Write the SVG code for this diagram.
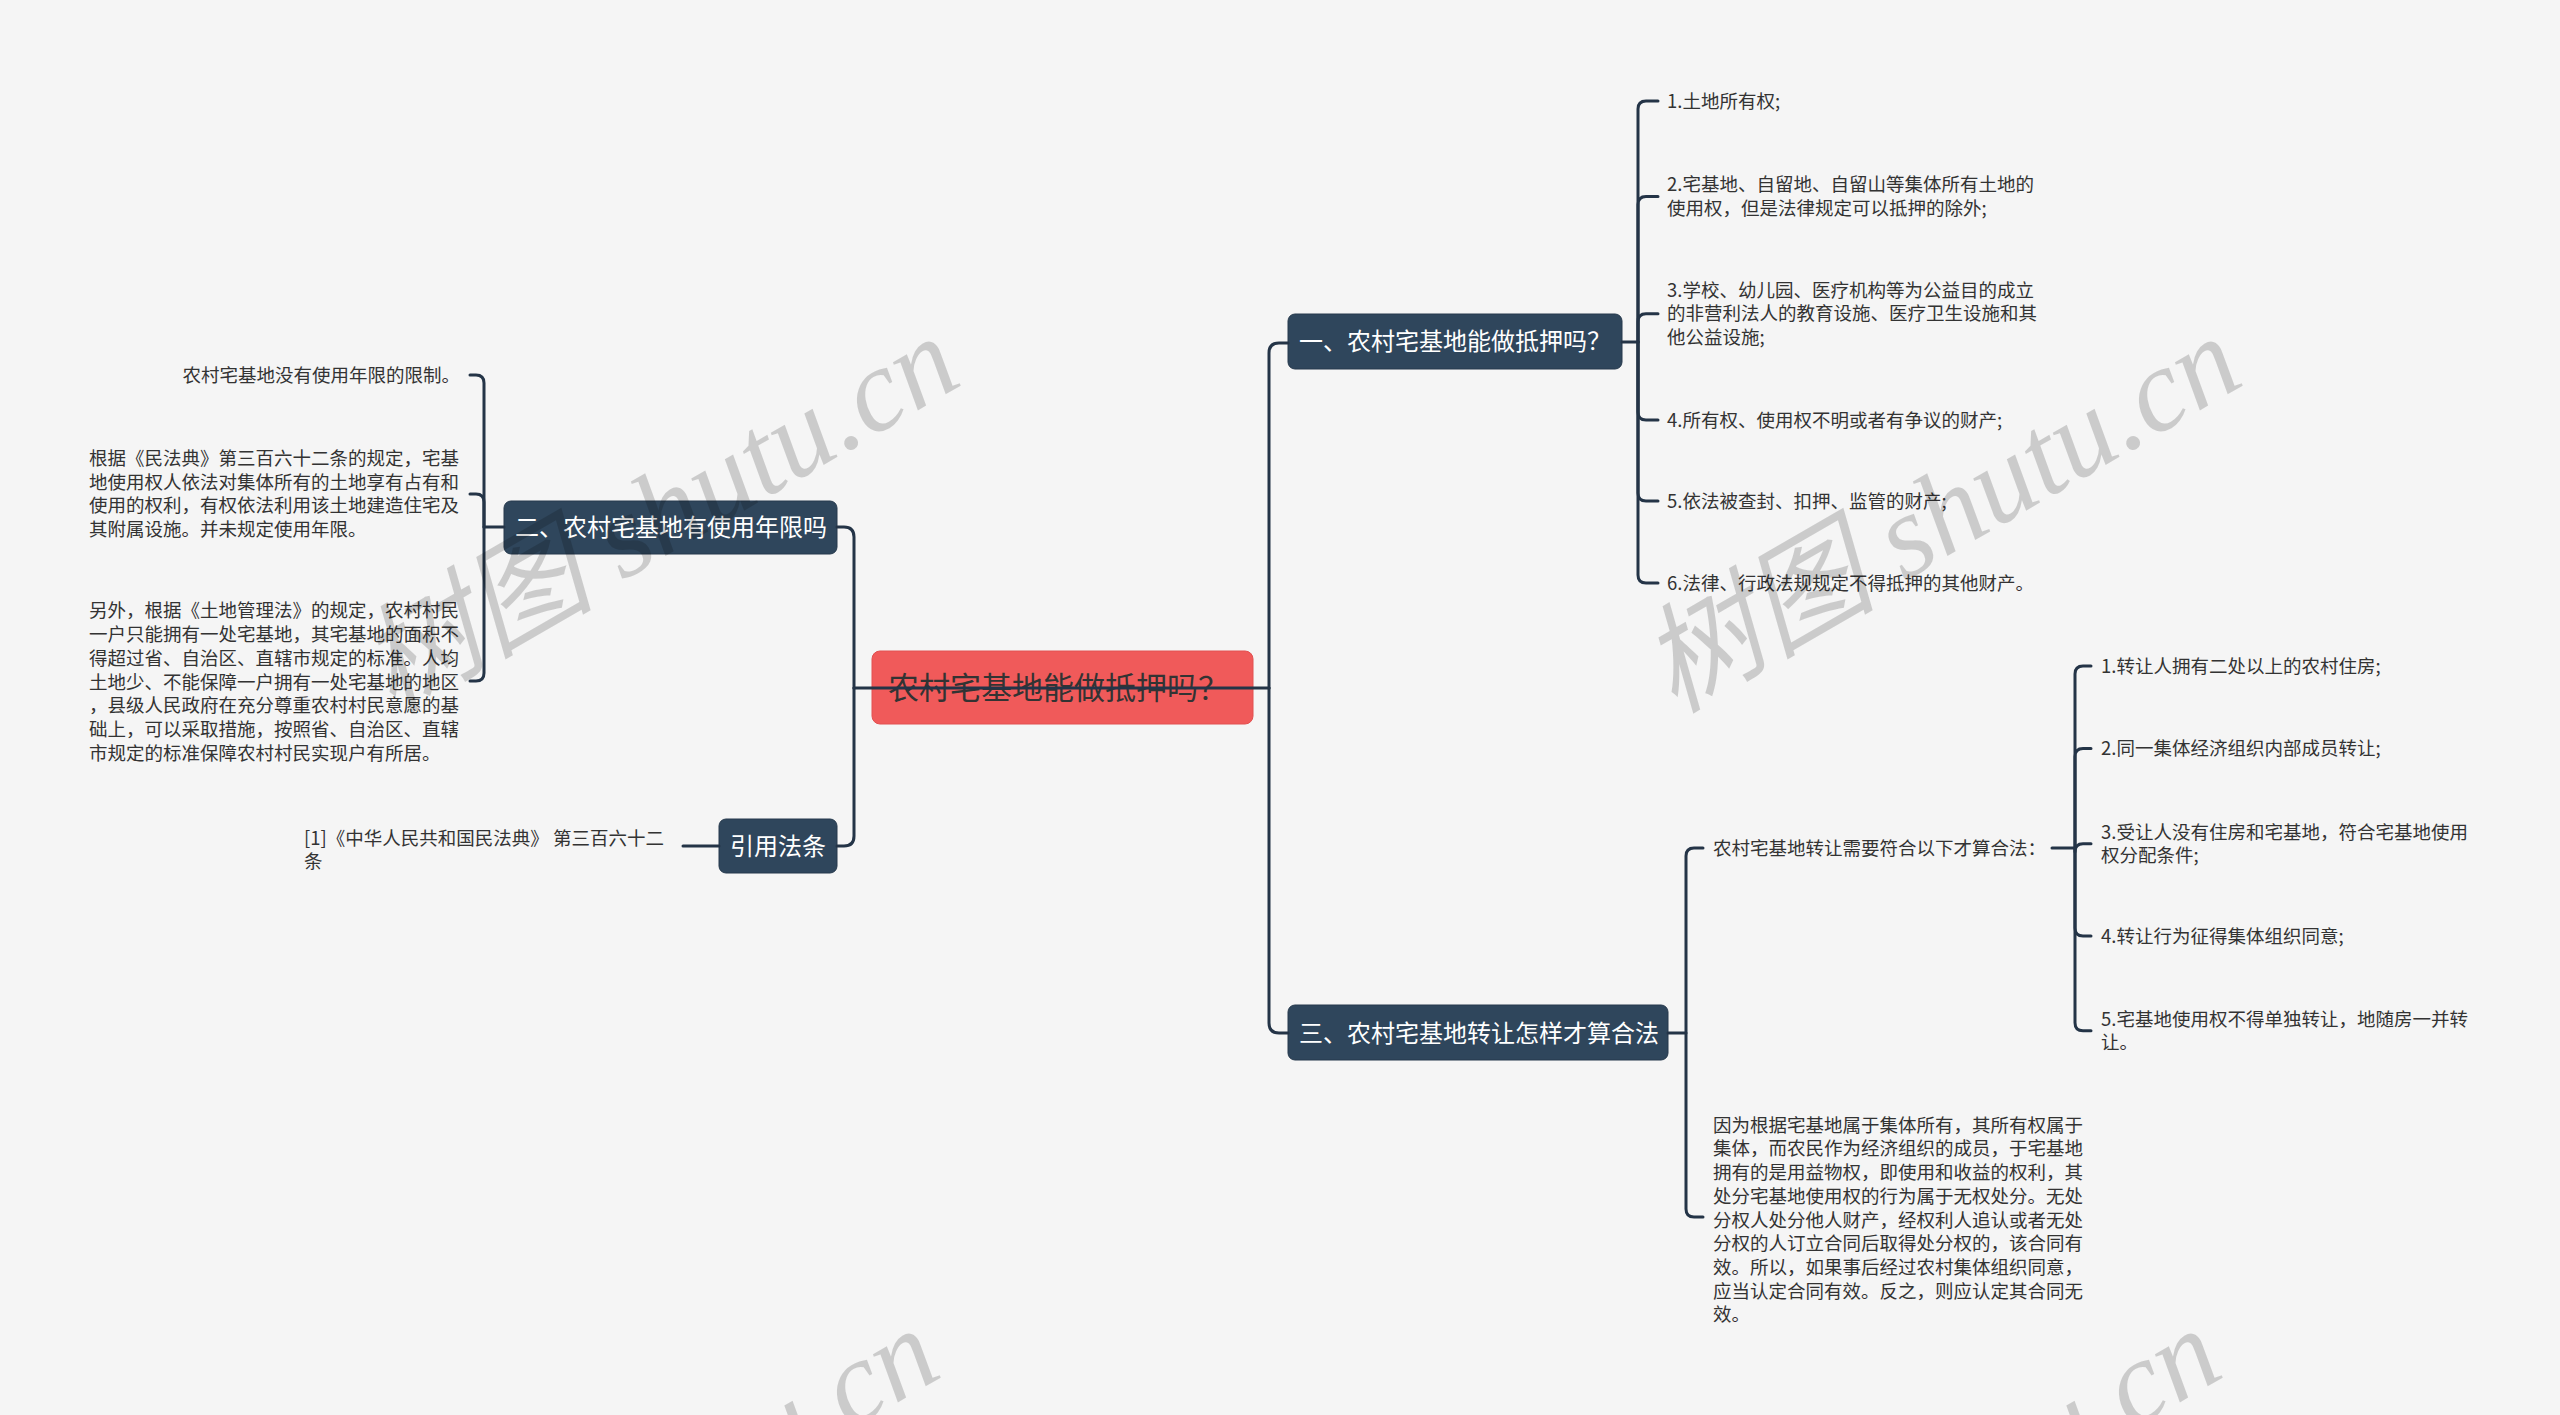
<svg xmlns="http://www.w3.org/2000/svg" width="2560" height="1415" viewBox="0 0 2560 1415">
<style>
.conn{fill:none;stroke:#243447;stroke-width:3;stroke-linecap:round;stroke-linejoin:round}
.topic rect{fill:#2f465c;stroke:#26394c;stroke-width:1}
.topic text{fill:#ffffff;font-size:24px;font-family:"Noto Sans CJK SC","Noto Sans",sans-serif}
.leaf{fill:#333333;font-size:18.5px;font-family:"Noto Sans CJK SC","Noto Sans",sans-serif}
.wm{fill:#000000;fill-opacity:0.17;font-size:118px;font-family:"Liberation Serif","Noto Sans CJK SC",serif;font-style:italic}
</style>
<rect x="0" y="0" width="2560" height="1415" fill="#f5f5f5"/>

<g id="nodes">
  <g id="root">
    <rect x="872" y="651" width="381" height="73" rx="8" fill="#f05a5a" stroke="#e25050" stroke-width="1"/>
    <text x="888" y="699" fill="#333333" font-size="31" font-family="Noto Sans CJK SC, Noto Sans, sans-serif">农村宅基地能做抵押吗？</text>
  </g>

  <g id="n1" class="topic">
    <rect x="1288" y="314" width="334" height="55" rx="7"/>
    <text x="1299" y="350">一、农村宅基地能做抵押吗？</text>
  </g>
  <g id="n1c1"><text class="leaf" x="1667" y="107.5">1.土地所有权;</text></g>
  <g id="n1c2"><text class="leaf" x="1667" y="191.2">2.宅基地、自留地、自留山等集体所有土地的</text><text class="leaf" x="1667" y="214.9">使用权，但是法律规定可以抵押的除外;</text></g>
  <g id="n1c3"><text class="leaf" x="1667" y="296.5">3.学校、幼儿园、医疗机构等为公益目的成立</text><text class="leaf" x="1667" y="320.2">的非营利法人的教育设施、医疗卫生设施和其</text><text class="leaf" x="1667" y="343.9">他公益设施;</text></g>
  <g id="n1c4"><text class="leaf" x="1667" y="426.5">4.所有权、使用权不明或者有争议的财产;</text></g>
  <g id="n1c5"><text class="leaf" x="1667" y="507.5">5.依法被查封、扣押、监管的财产;</text></g>
  <g id="n1c6"><text class="leaf" x="1667" y="589.5">6.法律、行政法规规定不得抵押的其他财产。</text></g>

  <g id="n2" class="topic">
    <rect x="504" y="501" width="333" height="53" rx="7"/>
    <text x="515" y="535.5">二、农村宅基地有使用年限吗</text>
  </g>
  <g id="n2c1"><text class="leaf" x="460" y="381.5" text-anchor="end">农村宅基地没有使用年限的限制。</text></g>
  <g id="n2c2">
    <text class="leaf" x="89" y="465">根据《民法典》第三百六十二条的规定，宅基</text>
    <text class="leaf" x="89" y="488.7">地使用权人依法对集体所有的土地享有占有和</text>
    <text class="leaf" x="89" y="512.4">使用的权利，有权依法利用该土地建造住宅及</text>
    <text class="leaf" x="89" y="536.1">其附属设施。并未规定使用年限。</text>
  </g>
  <g id="n2c3">
    <text class="leaf" x="89" y="617.4">另外，根据《土地管理法》的规定，农村村民</text>
    <text class="leaf" x="89" y="641.1">一户只能拥有一处宅基地，其宅基地的面积不</text>
    <text class="leaf" x="89" y="664.8">得超过省、自治区、直辖市规定的标准。人均</text>
    <text class="leaf" x="89" y="688.5">土地少、不能保障一户拥有一处宅基地的地区</text>
    <text class="leaf" x="89" y="712.2">，县级人民政府在充分尊重农村村民意愿的基</text>
    <text class="leaf" x="89" y="735.9">础上，可以采取措施，按照省、自治区、直辖</text>
    <text class="leaf" x="89" y="759.6">市规定的标准保障农村村民实现户有所居。</text>
  </g>

  <g id="n3" class="topic">
    <rect x="1288" y="1005" width="380" height="55" rx="7"/>
    <text x="1299" y="1041.5">三、农村宅基地转让怎样才算合法</text>
  </g>
  <g id="n3c1"><text class="leaf" x="1713" y="854.5">农村宅基地转让需要符合以下才算合法：</text></g>
  <g id="n3c1a"><text class="leaf" x="2101" y="672.5">1.转让人拥有二处以上的农村住房;</text></g>
  <g id="n3c1b"><text class="leaf" x="2101" y="755">2.同一集体经济组织内部成员转让;</text></g>
  <g id="n3c1c"><text class="leaf" x="2101" y="838.5">3.受让人没有住房和宅基地，符合宅基地使用</text><text class="leaf" x="2101" y="862.2">权分配条件;</text></g>
  <g id="n3c1d"><text class="leaf" x="2101" y="942.5">4.转让行为征得集体组织同意;</text></g>
  <g id="n3c1e"><text class="leaf" x="2101" y="1025.5">5.宅基地使用权不得单独转让，地随房一并转</text><text class="leaf" x="2101" y="1049.2">让。</text></g>
  <g id="n3c2">
    <text class="leaf" x="1713" y="1131.7">因为根据宅基地属于集体所有，其所有权属于</text>
    <text class="leaf" x="1713" y="1155.4">集体，而农民作为经济组织的成员，于宅基地</text>
    <text class="leaf" x="1713" y="1179.1">拥有的是用益物权，即使用和收益的权利，其</text>
    <text class="leaf" x="1713" y="1202.8">处分宅基地使用权的行为属于无权处分。无处</text>
    <text class="leaf" x="1713" y="1226.5">分权人处分他人财产，经权利人追认或者无处</text>
    <text class="leaf" x="1713" y="1250.2">分权的人订立合同后取得处分权的，该合同有</text>
    <text class="leaf" x="1713" y="1273.9">效。所以，如果事后经过农村集体组织同意，</text>
    <text class="leaf" x="1713" y="1297.6">应当认定合同有效。反之，则应认定其合同无</text>
    <text class="leaf" x="1713" y="1321.3">效。</text>
  </g>

  <g id="n4" class="topic">
    <rect x="719" y="819" width="118" height="54" rx="7"/>
    <text x="730" y="854.5">引用法条</text>
  </g>
  <g id="n4c1"><text class="leaf" x="304" y="844.5">[1]《中华人民共和国民法典》 第三百六十二</text><text class="leaf" x="304" y="868.2">条</text></g>
</g>

<g id="connectors">
  <path class="conn" d="M854 688 H1269"/>
  <path class="conn" d="M854 688 V537 Q854 527 844 527 H837"/>
  <path class="conn" d="M854 688 V836 Q854 846 844 846 H837"/>
  <path class="conn" d="M1269 688 V353 Q1269 343 1279 343 H1288"/>
  <path class="conn" d="M1269 688 V1023 Q1269 1033 1279 1033 H1288"/>

  <path class="conn" d="M1622 342 H1638 V109 Q1638 101 1646 101 H1658"/>
  <path class="conn" d="M1638 342 V204.5 Q1638 196.5 1646 196.5 H1658"/>
  <path class="conn" d="M1638 342 V321.7 Q1638 313.7 1646 313.7 H1658"/>
  <path class="conn" d="M1638 342 V412 Q1638 420 1646 420 H1658"/>
  <path class="conn" d="M1638 342 V493 Q1638 501 1646 501 H1658"/>
  <path class="conn" d="M1638 342 V575 Q1638 583 1646 583 H1658"/>

  <path class="conn" d="M504 527 H484 V383 Q484 375 476 375 H470"/>
  <path class="conn" d="M484 527 V502 Q484 494 476 494 H470"/>
  <path class="conn" d="M484 527 V673 Q484 681 476 681 H470"/>

  <path class="conn" d="M719 846 H683"/>

  <path class="conn" d="M1668 1033 H1686 V856 Q1686 848 1694 848 H1703"/>
  <path class="conn" d="M1686 1033 V1209 Q1686 1217 1694 1217 H1703"/>

  <path class="conn" d="M2052 848 H2075 V674 Q2075 666 2083 666 H2091"/>
  <path class="conn" d="M2075 848 V756.5 Q2075 748.5 2083 748.5 H2091"/>
  <path class="conn" d="M2075 848 V851.8 Q2075 843.8 2083 843.8 H2091"/>
  <path class="conn" d="M2075 848 V928 Q2075 936 2083 936 H2091"/>
  <path class="conn" d="M2075 848 V1022.8 Q2075 1030.8 2083 1030.8 H2091"/>
</g>

<g id="watermarks">
  <text class="wm" transform="translate(392 714) rotate(-30)">树图 shutu.cn</text>
  <text class="wm" transform="translate(1674 714) rotate(-30)">树图 shutu.cn</text>
  <text class="wm" transform="translate(372 1706) rotate(-30)">树图 shutu.cn</text>
  <text class="wm" transform="translate(1654 1706) rotate(-30)">树图 shutu.cn</text>
</g>
</svg>
